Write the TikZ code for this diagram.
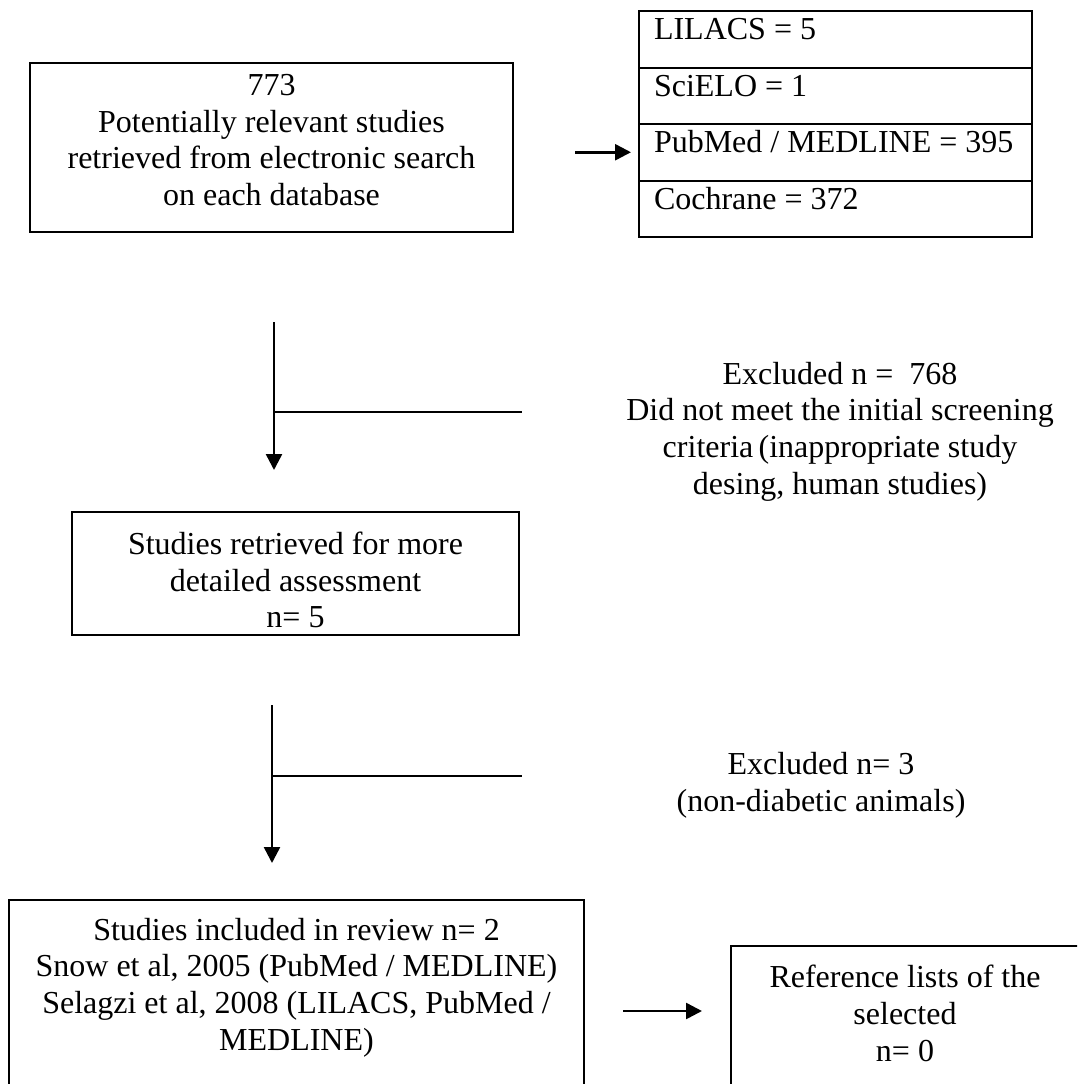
\documentclass[tikz,border=0pt]{standalone}
\usepackage{fontspec}
\setmainfont{Liberation Serif}
\usetikzlibrary{arrows.meta,positioning}

\begin{document}
\begin{tikzpicture}[x=1pt,y=-1pt,
  box/.style={draw,line width=2pt,align=center,inner sep=0pt,
    font=\fontsize{32}{36.7}\selectfont},
  dbrow/.style={draw,line width=2pt,anchor=north west,minimum width=393pt,
    minimum height=56.5pt,inner xsep=15pt,inner ysep=0pt,
    text height=22pt,text depth=21pt,font=\fontsize{32}{36.7}\selectfont},
  note/.style={align=center,inner sep=0pt,font=\fontsize{32}{36.7}\selectfont},
  flow/.style={-{Triangle[length=16pt,width=16pt]},line width=2.5pt},
  branch/.style={line width=2.5pt}]
  \useasboundingbox (0,0) rectangle (1077,1084);
  \clip (0,0) rectangle (1077,1084);
  % search box + database table
  \node[box,minimum width=483pt,minimum height=169pt,text depth=15pt] (srch) at (271.5,147.5)
    {773\\Potentially relevant studies\\retrieved from electronic search\\on each database};
  \foreach \lbl [count=\i from 0] in {LILACS = 5,SciELO = 1,PubMed / MEDLINE = 395,Cochrane = 372}
    \node[dbrow] (db\i) at (638,{10+56.5*\i}) {\makebox[363pt][l]{\lbl}};
  \draw[flow] ([xshift=-63pt]db2.west) -- ([xshift=-7pt]db2.west);
  % first screening
  \coordinate (v1top) at (274,322);
  \coordinate (v1tip) at (274,470);
  \coordinate (v1mid) at (274,412);
  \coordinate (v1end) at (522,412);
  \draw[flow] (v1top) -- (v1tip);
  \draw[branch] (v1mid) -- (v1end);
  \node[note] (excl1) at (840,431.5)
    {Excluded n =\ \ 768\\Did not meet the initial screening\\criteria\,(inappropriate study\\desing, human studies)};
  \node[box,minimum width=447pt,minimum height=123pt,text height=109pt] (detl) at (295.5,573.5)
    {Studies retrieved for more\\detailed assessment\\n= 5};
  % second screening
  \coordinate (v2top) at (272,705);
  \coordinate (v2tip) at (272,863);
  \coordinate (v2mid) at (272,776);
  \coordinate (v2end) at (522,776);
  \draw[flow] (v2top) -- (v2tip);
  \draw[branch] (v2mid) -- (v2end);
  \node[note] (excl2) at (821,785) {Excluded n= 3\\(non-diabetic animals)};
  % included studies + reference lists (run off the page)
  \node[box,minimum width=575pt,minimum height=220pt,text depth=52pt] (incl) at (296.5,1010)
    {Studies included in review n= 2\\Snow et al, 2005 (PubMed / MEDLINE)\\Selagzi et al, 2008 (LILACS, PubMed /\\MEDLINE)};
  \node[box,minimum width=348pt,minimum height=174pt,text depth=39.4pt] (refl) at (905,1033)
    {Reference lists of the\\selected\\n= 0};
  \coordinate (a3s) at (623,1011);
  \coordinate (a3e) at (702,1011);
  \draw[flow] (a3s) -- (a3e);
\end{tikzpicture}
\end{document}
